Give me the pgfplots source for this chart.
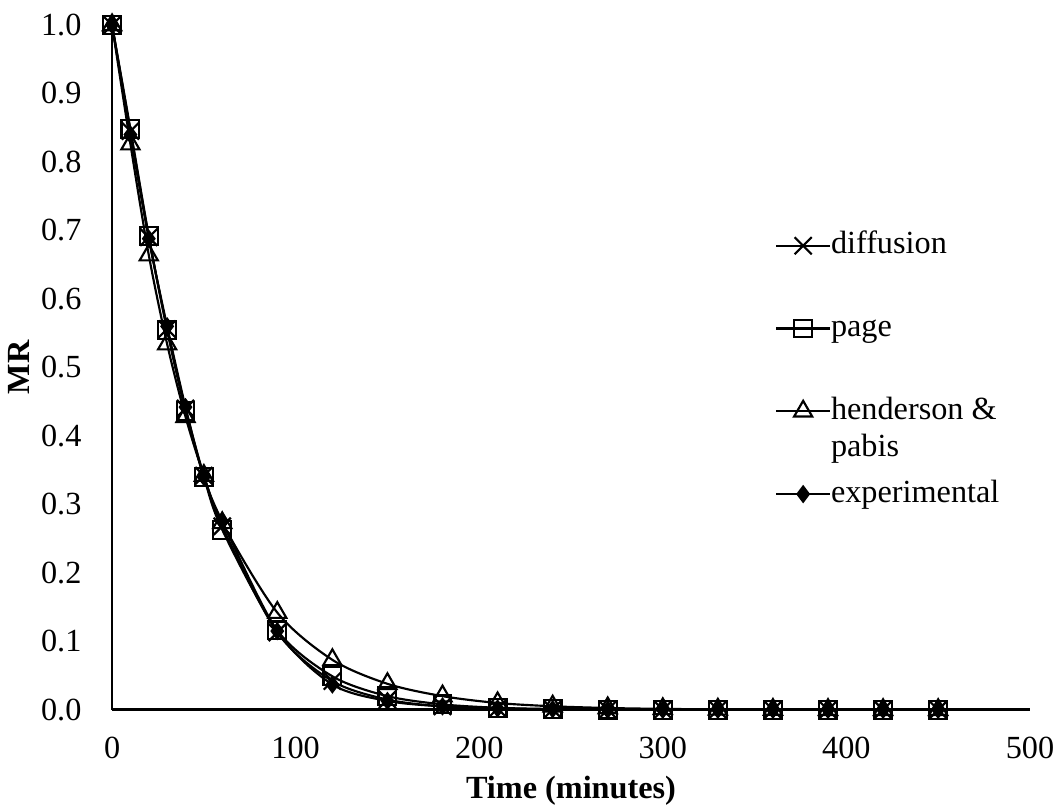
\documentclass[border=0pt,12pt]{standalone}
\usepackage{fontspec}
\setmainfont{Liberation Serif}
\usepackage{pgfplots}
\usepackage{pgfplotstable}
\pgfplotsset{compat=1.18}

\pgfplotstableread{
t diff page hp exp
0 1.000 1.000 1.000 1.000
10 0.845 0.848 0.826 0.840
20 0.690 0.692 0.664 0.688
30 0.556 0.554 0.534 0.560
40 0.440 0.436 0.428 0.442
50 0.342 0.340 0.342 0.340
60 0.268 0.263 0.273 0.275
90 0.113 0.116 0.142 0.115
120 0.042 0.049 0.073 0.037
150 0.015 0.020 0.038 0.013
180 0.005 0.008 0.020 0.005
210 0.002 0.003 0.010 0.002
240 0.0006 0.0012 0.0052 0.001
270 0.0002 0.0004 0.0027 0.000
300 0.0001 0.0001 0.0014 0.000
330 0 0 0.0007 0
360 0 0 0.0004 0
390 0 0 0.0002 0
420 0 0 0.0001 0
450 0 0 0.0001 0
}\data

\begin{document}
\fontsize{12}{14.4}\selectfont
\begin{tikzpicture}
\useasboundingbox (-41.7pt,-35.7pt) rectangle (353.8pt,264.1pt);
\begin{axis}[
  at={(0pt,0pt)}, anchor=south west,
  scale only axis, width=341.5pt, height=254.8pt,
  xmin=0, xmax=500, ymin=0, ymax=1,
  axis x line=bottom, axis y line=left,
  axis line style={-, line width=1pt, black},
  xtick={0,100,200,300,400,500},
  ytick={0,0.1,0.2,0.3,0.4,0.5,0.6,0.7,0.8,0.9,1},
  major tick length=0pt,
  clip=false,
  /pgf/number format/assume math mode=true,
  yticklabel style={xshift=-7.2pt, /pgf/number format/fixed, /pgf/number format/fixed zerofill, /pgf/number format/precision=1},
  xticklabel style={yshift=-6pt},
  xlabel={\textbf{Time (minutes)}},
  ylabel={\textbf{MR}},
  xlabel shift=-2pt,
  ylabel shift=-4pt,
  legend cell align=left,
  legend style={at={(0.722,0.702)}, anchor=north west, draw=none, fill=none,
    inner sep=0pt, row sep=18.8pt, column sep=0pt,
    nodes={inner sep=0pt, text height=9pt, text depth=3pt}},
  legend image code/.code={\draw[mark repeat=2,mark phase=2] plot coordinates {(0cm,0cm) (0.35cm,0cm) (0.7cm,0cm)};},
]
\addplot[black, line width=0.8pt, smooth, mark=x, mark size=4.5pt, mark options={solid, line width=0.8pt}] table[x=t,y=diff]{\data};
\addlegendentry{diffusion}
\addplot[black, line width=0.8pt, smooth, mark=square, mark size=3.3pt, mark options={solid, line width=0.8pt}] table[x=t,y=page]{\data};
\addlegendentry{page}
\addplot[black, line width=0.8pt, smooth, mark=triangle, mark size=3.9pt, mark options={solid, line width=0.8pt}] table[x=t,y=hp]{\data};
\addlegendentry{\vtop{\baselineskip=13.8pt\hbox{henderson \&}\hbox{pabis}}}
\addplot[black, line width=0.8pt, smooth, mark=diamond*, mark size=2.8pt, mark options={solid, fill=black}] table[x=t,y=exp]{\data};
\addlegendentry{experimental}
\end{axis}
\end{tikzpicture}
\end{document}
